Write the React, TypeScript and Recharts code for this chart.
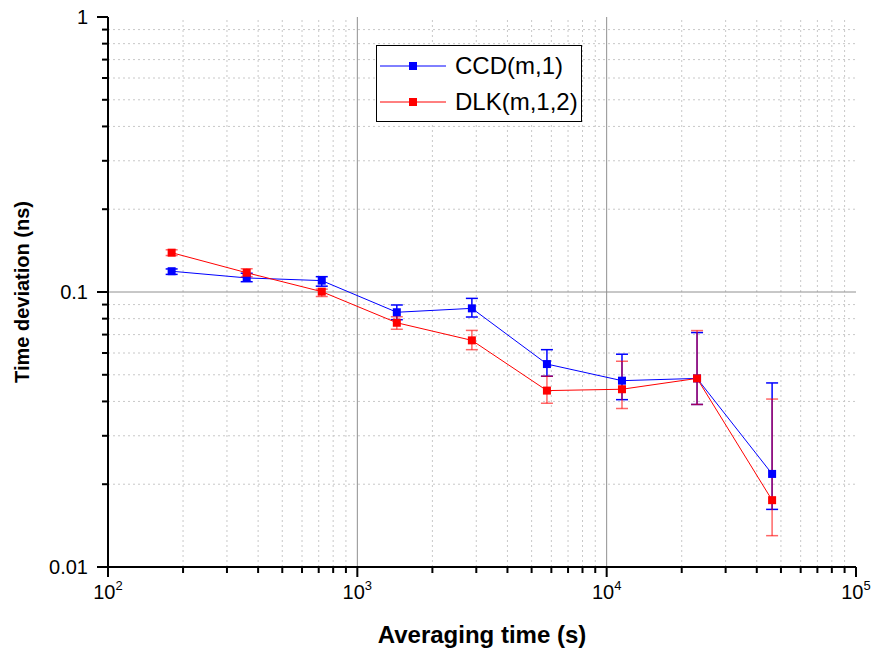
import React from 'react';
import { LineChart, Line, XAxis, YAxis, ErrorBar, ReferenceLine, Legend } from 'recharts';

const tau = [180, 360, 720, 1440, 2880, 5760, 11520, 23040, 46080];

const ccdValue = [0.119, 0.1125, 0.110, 0.0844, 0.0872, 0.0547, 0.0476, 0.0485, 0.0218];
const ccdUpper = [0.1213, 0.117, 0.1137, 0.0897, 0.0948, 0.0617, 0.0594, 0.0712, 0.0467];
const ccdLower = [0.1159, 0.109, 0.105, 0.0793, 0.0811, 0.0494, 0.0406, 0.0390, 0.0162];

const dlkValue = [0.139, 0.1175, 0.1003, 0.0773, 0.0667, 0.0438, 0.0443, 0.0485, 0.0175];
const dlkUpper = [0.1424, 0.1215, 0.1024, 0.0813, 0.0725, 0.0494, 0.0560, 0.0724, 0.0408];
const dlkLower = [0.1357, 0.1137, 0.0963, 0.0732, 0.0617, 0.0394, 0.0377, 0.0390, 0.0130];

const xMajor = [100, 1000, 10000, 100000];
const xMinor = [200, 300, 400, 500, 600, 700, 800, 900, 2000, 3000, 4000, 5000, 6000, 7000, 8000, 9000, 20000, 30000, 40000, 50000, 60000, 70000, 80000, 90000];
const yMajor = [0.01, 0.1, 1];
const yMinor = [0.02, 0.03, 0.04, 0.05, 0.06, 0.07, 0.08, 0.09, 0.2, 0.3, 0.4, 0.5, 0.6, 0.7, 0.8, 0.9];
const xExp: Record<number, string> = { 100: '2', 1000: '3', 10000: '4', 100000: '5' };
const yLabels = ['0.01', '0.1', '1'];

const seriesNames = ['CCD(m,1)', 'DLK(m,1,2)'];
const colors = ['#0000ff', '#ff0000'];

const data = tau.map((t, i) => ({
  tau: t,
  ccd: ccdValue[i],
  ccdErr: [ccdValue[i] - ccdLower[i], ccdUpper[i] - ccdValue[i]],
  dlk: dlkValue[i],
  dlkErr: [dlkValue[i] - dlkLower[i], dlkUpper[i] - dlkValue[i]],
}));

const FONT = '"Liberation Sans", Arial, sans-serif';
const TICK = '#000000';

const XTick = (props: any) => {
  const { x, y, payload } = props;
  const v = payload.value;
  const major = xMajor.includes(v);
  return (
    <g>
      <rect x={x - 1} y={y} width={2} height={major ? 10 : 6} fill={TICK} stroke="none" />
      {major && (
        <text x={x} y={y + 32} textAnchor="middle" fontFamily={FONT} fontSize={20} fill="#000" stroke="none">
          <tspan>10</tspan>
          <tspan dy={-9} fontSize={13}>{xExp[v]}</tspan>
        </text>
      )}
    </g>
  );
};

const YTick = (props: any) => {
  const { x, y, payload } = props;
  const v = payload.value;
  const idx = yMajor.findIndex((m) => Math.abs(m - v) < 1e-9);
  const major = idx >= 0;
  return (
    <g>
      <rect x={x - (major ? 11 : 6)} y={y - 1} width={major ? 11 : 6} height={2} fill={TICK} stroke="none" />
      {major && (
        <text x={x - 20} y={y} dy="0.35em" textAnchor="end" fontFamily={FONT} fontSize={20} fill="#000" stroke="none">
          {yLabels[idx]}
        </text>
      )}
    </g>
  );
};

const SquareDot = (color: string) => (props: any) => {
  const { cx, cy, index } = props;
  if (cx == null || cy == null) return <g key={index} />;
  return <rect key={index} x={cx - 4} y={cy - 4} width={8} height={8} fill={color} />;
};

const LegendBox = () => (
  <div style={{ width: 206, height: 77, border: '1px solid #000', background: '#fff', boxSizing: 'border-box' }}>
    <svg width={204} height={75}>
      {seriesNames.map((name, i) => {
        const cy = 20 + i * 36;
        return (
          <g key={name}>
            <line x1={3} x2={69} y1={cy} y2={cy} stroke={colors[i]} strokeWidth={1} />
            <rect x={32} y={cy - 4} width={8} height={8} fill={colors[i]} />
            <text x={78} y={cy} dy="0.35em" fontFamily={FONT} fontSize={24} fill="#000">{name}</text>
          </g>
        );
      })}
    </svg>
  </div>
);

export default function App() {
  return (
    <div style={{ position: 'absolute', left: 0, top: 0, width: 877, height: 661, background: '#fff' }}>
      <LineChart width={877} height={661} data={data} margin={{ top: 17, right: 21, left: 0, bottom: 0 }}>
        <XAxis
          dataKey="tau"
          type="number"
          scale="log"
          domain={[100, 100000]}
          allowDataOverflow
          ticks={[...xMajor, ...xMinor].sort((a, b) => a - b)}
          interval={0}
          tickSize={0}
          tickMargin={0}
          tickLine={false}
          tick={<XTick />}
          height={94}
          axisLine={{ stroke: '#000', strokeWidth: 2 }}
          label={(p: any) => {
            const vb = p.viewBox;
            return (
              <text x={vb.x + vb.width / 2} y={vb.y + 76} textAnchor="middle" fontFamily={FONT} fontWeight="bold" fontSize={24} fill="#000">
                Averaging time (s)
              </text>
            );
          }}
        />
        <XAxis xAxisId="top" orientation="top" dataKey="tau" type="number" scale="log" domain={[100, 100000]} allowDataOverflow height={0} tick={false} tickLine={false} axisLine={{ stroke: '#000', strokeWidth: 2 }} />
        <YAxis
          type="number"
          scale="log"
          domain={[0.01, 1]}
          allowDataOverflow
          ticks={[...yMajor, ...yMinor].sort((a, b) => a - b)}
          interval={0}
          tickSize={0}
          tickMargin={0}
          tickLine={false}
          tick={<YTick />}
          width={108}
          axisLine={{ stroke: '#000', strokeWidth: 2 }}
          label={(p: any) => {
            const vb = p.viewBox;
            const cx = 22;
            const cy = vb.y + vb.height / 2;
            return (
              <text x={cx} y={cy} transform={`rotate(-90 ${cx} ${cy})`} dy="0.35em" textAnchor="middle" fontFamily={FONT} fontWeight="bold" fontSize={20} fill="#000">
                Time deviation (ns)
              </text>
            );
          }}
        />
        <YAxis yAxisId="right" orientation="right" type="number" scale="log" domain={[0.01, 1]} allowDataOverflow width={0} tick={false} tickLine={false} axisLine={{ stroke: '#000', strokeWidth: 2 }} />
        {xMinor.map((v) => (
          <ReferenceLine key={'xm' + v} x={v} stroke="#c8c8c8" strokeDasharray="2 3" strokeWidth={1} />
        ))}
        {yMinor.map((v) => (
          <ReferenceLine key={'ym' + v} y={v} stroke="#c8c8c8" strokeDasharray="2 3" strokeWidth={1} />
        ))}
        {xMajor.slice(1, 3).map((v) => (
          <ReferenceLine key={'xM' + v} x={v} stroke="#909090" strokeWidth={1} />
        ))}
        <ReferenceLine y={0.1} stroke="#909090" strokeWidth={1} />
        <Legend
          layout="horizontal"
          verticalAlign="middle"
          align="center"
          content={<LegendBox />}
          wrapperStyle={{ position: 'absolute', left: 376, top: 45, width: 206, height: 77 }}
        />
        <Line
          dataKey="ccd"
          name={seriesNames[0]}
          stroke={colors[0]}
          strokeWidth={1}
          isAnimationActive={false}
          dot={SquareDot(colors[0])}
          activeDot={false}
        >
          <ErrorBar dataKey="ccdErr" direction="y" width={6} stroke={colors[0]} strokeWidth={1.5} isAnimationActive={false} />
        </Line>
        <Line
          dataKey="dlk"
          name={seriesNames[1]}
          stroke={colors[1]}
          strokeWidth={1}
          isAnimationActive={false}
          dot={SquareDot(colors[1])}
          activeDot={false}
        >
          <ErrorBar dataKey="dlkErr" direction="y" width={6} stroke={colors[1]} strokeOpacity={0.6} strokeWidth={1.5} isAnimationActive={false} />
        </Line>
      </LineChart>
    </div>
  );
}
